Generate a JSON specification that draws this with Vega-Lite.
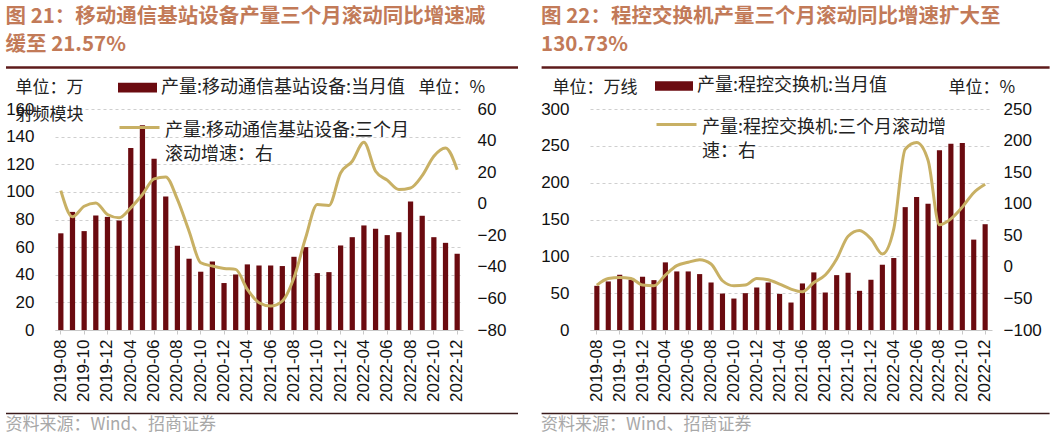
{
  "$schema": "https://vega.github.io/schema/vega-lite/v6.json",
  "padding": {"left": 5, "top": 7, "right": 0, "bottom": 0},
  "background": "white",
  "datasets": {
    "s1": [
      {"m": "2019-08", "bar": 70, "line": 8.3},
      {"m": "2019-09", "bar": 85.5, "line": -8.3},
      {"m": "2019-10", "bar": 71.6, "line": -1.6},
      {"m": "2019-11", "bar": 82.9, "line": 0.5},
      {"m": "2019-12", "bar": 81.9, "line": -6.8},
      {"m": "2020-03", "bar": 79.3, "line": -8.9},
      {"m": "2020-04", "bar": 131.8, "line": -2.6},
      {"m": "2020-05", "bar": 148.2, "line": 5.8},
      {"m": "2020-06", "bar": 123.9, "line": 15.7},
      {"m": "2020-07", "bar": 96.6, "line": 17},
      {"m": "2020-08", "bar": 61, "line": 2.7},
      {"m": "2020-09", "bar": 51.6, "line": -17.4},
      {"m": "2020-10", "bar": 42.2, "line": -37.4},
      {"m": "2020-11", "bar": 49.6, "line": -39.5},
      {"m": "2020-12", "bar": 34, "line": -41},
      {"m": "2021-03", "bar": 40.2, "line": -41.6},
      {"m": "2021-04", "bar": 47.5, "line": -54.3},
      {"m": "2021-05", "bar": 46.7, "line": -62.7},
      {"m": "2021-06", "bar": 46.7, "line": -64.8},
      {"m": "2021-07", "bar": 46.3, "line": -61.7},
      {"m": "2021-08", "bar": 53, "line": -46.9},
      {"m": "2021-09", "bar": 60, "line": -21.6},
      {"m": "2021-10", "bar": 41.2, "line": -0.5},
      {"m": "2021-11", "bar": 41.9, "line": -1.1},
      {"m": "2021-12", "bar": 61.2, "line": 19.5},
      {"m": "2022-03", "bar": 67.2, "line": 26.9},
      {"m": "2022-04", "bar": 75.7, "line": 38.9},
      {"m": "2022-05", "bar": 73.3, "line": 20.6},
      {"m": "2022-06", "bar": 68.7, "line": 14.9},
      {"m": "2022-07", "bar": 70.8, "line": 9},
      {"m": "2022-08", "bar": 93, "line": 10},
      {"m": "2022-09", "bar": 82.7, "line": 17.8},
      {"m": "2022-10", "bar": 67.2, "line": 30.1},
      {"m": "2022-11", "bar": 63.1, "line": 35.3},
      {"m": "2022-12", "bar": 55.2, "line": 21.57}
    ],
    "s2": [
      {"m": "2019-08", "bar": 60, "line": -28.9},
      {"m": "2019-09", "bar": 65.9, "line": -18.3},
      {"m": "2019-10", "bar": 75, "line": -16.7},
      {"m": "2019-11", "bar": 68.2, "line": -18.3},
      {"m": "2019-12", "bar": 72.3, "line": -28.9},
      {"m": "2020-03", "bar": 67.7, "line": -30},
      {"m": "2020-04", "bar": 91.8, "line": -13},
      {"m": "2020-05", "bar": 79.5, "line": 1.9},
      {"m": "2020-06", "bar": 79.5, "line": 7.2},
      {"m": "2020-07", "bar": 75.9, "line": 11.4},
      {"m": "2020-08", "bar": 64.5, "line": 4.5},
      {"m": "2020-09", "bar": 49.5, "line": -22},
      {"m": "2020-10", "bar": 42.7, "line": -30},
      {"m": "2020-11", "bar": 50, "line": -28.9},
      {"m": "2020-12", "bar": 57.7, "line": -18.3},
      {"m": "2021-03", "bar": 64.5, "line": -20.4},
      {"m": "2021-04", "bar": 49, "line": -27.3},
      {"m": "2021-05", "bar": 37.3, "line": -35.3},
      {"m": "2021-06", "bar": 63.2, "line": -39.5},
      {"m": "2021-07", "bar": 78.2, "line": -24.7},
      {"m": "2021-08", "bar": 50.9, "line": -13},
      {"m": "2021-09", "bar": 74.5, "line": 12.5},
      {"m": "2021-10", "bar": 77.7, "line": 48.5},
      {"m": "2021-11", "bar": 53.2, "line": 57.5},
      {"m": "2021-12", "bar": 68.2, "line": 44.3},
      {"m": "2022-03", "bar": 88.6, "line": 20.4},
      {"m": "2022-04", "bar": 97.7, "line": 60.2},
      {"m": "2022-05", "bar": 166.8, "line": 186.4},
      {"m": "2022-06", "bar": 180.5, "line": 197},
      {"m": "2022-07", "bar": 171.4, "line": 168.9},
      {"m": "2022-08", "bar": 244, "line": 66.5},
      {"m": "2022-09", "bar": 252.7, "line": 76},
      {"m": "2022-10", "bar": 254, "line": 94.6},
      {"m": "2022-11", "bar": 122.7, "line": 117.4},
      {"m": "2022-12", "bar": 143.6, "line": 130.73}
    ]
  },
  "vconcat": [
    {
      "hconcat": [
        {
          "width": 512, "height": 1,
          "data": {"values": [{}]},
          "title": {"text": ["图 21：移动通信基站设备产量三个月滚动同比增速减", "缓至 21.57%"], "anchor": "start", "frame": "group", "dx": -49.5, "fontSize": 20.5, "fontWeight": "bold", "font": "Noto Sans CJK SC", "color": "#C27A58", "lineHeight": 28, "offset": 8},
          "mark": {"type": "point", "opacity": 0},
          "encoding": {"x": {"datum": 0, "type": "quantitative", "scale": {"domain": [0, 1]},
            "axis": {"orient": "bottom", "title": null, "labels": false, "ticks": false, "grid": false, "domain": true, "domainColor": "#5E1B1B", "domainWidth": 2.5, "position": -49.5}}}
        },
        {
          "width": 508, "height": 1,
          "data": {"values": [{}]},
          "title": {"text": ["图 22：程控交换机产量三个月滚动同比增速扩大至", "130.73%"], "anchor": "start", "frame": "group", "dx": -49.5, "fontSize": 20.5, "fontWeight": "bold", "font": "Noto Sans CJK SC", "color": "#C27A58", "lineHeight": 28, "offset": 8},
          "mark": {"type": "point", "opacity": 0},
          "encoding": {"x": {"datum": 0, "type": "quantitative", "scale": {"domain": [0, 1]},
            "axis": {"orient": "bottom", "title": null, "labels": false, "ticks": false, "grid": false, "domain": true, "domainColor": "#5E1B1B", "domainWidth": 2.5, "position": -49.5}}}
        }
      ],
      "spacing": -26.4
    },
    {
      "vconcat": [
        {
          "hconcat": [
            {
              "width": 408, "height": 221,
              "data": {"name": "s1"},
              "layer": [
                {
                  "mark": {"type": "bar", "width": {"band": 0.45}},
                  "encoding": {
                    "x": {"field": "m", "type": "ordinal", "sort": null, "scale": {"paddingInner": 0, "paddingOuter": 0},
                      "axis": {"title": null, "values": ["2019-08","2019-10","2019-12","2020-04","2020-06","2020-08","2020-10","2020-12","2021-04","2021-06","2021-08","2021-10","2021-12","2022-04","2022-06","2022-08","2022-10","2022-12"],
                        "labelAngle": 270, "labelFontSize": 17, "labelFont": "Liberation Sans", "labelColor": "#111", "labelPadding": 5, "domainColor": "#C8C8C8", "tickColor": "#C8C8C8", "tickSize": 4, "grid": false}},
                    "y": {"field": "bar", "type": "quantitative", "scale": {"domain": [0, 160], "nice": false},
                      "axis": {"values": [0,20,40,60,80,100,120,140,160], "title": ["单位：万", "射频模块"], "titleAngle": 0, "titleAlign": "left", "titleBaseline": "top", "titleX": -40, "titleY": -30, "titleFontSize": 17, "titleFontWeight": "normal", "titleFont": "Noto Sans CJK SC", "titleColor": "#222", "titleLineHeight": 27,
                        "labelFontSize": 17, "labelFont": "Liberation Sans", "labelColor": "#111", "labelPadding": 21, "ticks": false, "domain": false,
                        "grid": true, "gridColor": "#CFCFCF", "gridDash": [3, 3], "gridWidth": 1}},
                    "fill": {"datum": "产量:移动通信基站设备:当月值", "type": "nominal", "scale": {"range": ["#6B0B10"]},
                      "legend": {"orient": "none", "legendX": 63, "legendY": -41, "title": null, "symbolType": "M-1,-0.25H1V0.25H-1Z", "symbolSize": 1521, "symbolStrokeWidth": 0, "labelFontSize": 18, "labelFont": "Noto Sans CJK SC", "labelColor": "#222", "labelLimit": 500, "labelOffset": 4}}
                  }
                },
                {
                  "mark": {"type": "line", "interpolate": "monotone", "strokeWidth": 3},
                  "encoding": {
                    "x": {"field": "m", "type": "ordinal", "sort": null},
                    "y": {"field": "line", "type": "quantitative", "scale": {"domain": [-80, 60], "nice": false},
                      "axis": {"orient": "right", "values": [-80,-60,-40,-20,0,20,40,60], "title": "单位：%", "titleAngle": 0, "titleAlign": "left", "titleBaseline": "top", "titleX": -45, "titleY": -30, "titleFontSize": 17, "titleFontWeight": "normal", "titleFont": "Noto Sans CJK SC", "titleColor": "#222",
                        "labelFontSize": 17, "labelFont": "Liberation Sans", "labelColor": "#111", "labelPadding": 14, "ticks": false, "domain": false, "grid": false}},
                    "stroke": {"datum": "产量:移动通信基站设备:三个月滚动增速：右", "type": "nominal", "scale": {"range": ["#C8B064"]},
                      "legend": {"orient": "none", "legendX": 63, "legendY": 5, "title": null, "symbolType": "M-1,-0.4H1", "symbolSize": 1600, "symbolStrokeWidth": 3, "labelFontSize": 18, "labelFont": "Noto Sans CJK SC", "labelColor": "#222", "labelLimit": 500, "labelOffset": 4, "labelBaseline": "alphabetic",
                        "labelExpr": "['产量:移动通信基站设备:三个月', '滚动增速：右']"}}
                  }
                }
              ],
              "resolve": {"scale": {"y": "independent"}}
            },
            {
              "width": 402, "height": 221,
              "data": {"name": "s2"},
              "layer": [
                {
                  "mark": {"type": "bar", "width": {"band": 0.45}},
                  "encoding": {
                    "x": {"field": "m", "type": "ordinal", "sort": null, "scale": {"paddingInner": 0, "paddingOuter": 0.1},
                      "axis": {"title": null, "values": ["2019-08","2019-10","2019-12","2020-04","2020-06","2020-08","2020-10","2020-12","2021-04","2021-06","2021-08","2021-10","2021-12","2022-04","2022-06","2022-08","2022-10","2022-12"],
                        "labelAngle": 270, "labelFontSize": 17, "labelFont": "Liberation Sans", "labelColor": "#111", "labelPadding": 5, "domainColor": "#C8C8C8", "tickColor": "#C8C8C8", "tickSize": 4, "grid": false}},
                    "y": {"field": "bar", "type": "quantitative", "scale": {"domain": [0, 300], "nice": false},
                      "axis": {"values": [0,50,100,150,200,250,300], "title": "单位：万线", "titleAngle": 0, "titleAlign": "left", "titleBaseline": "top", "titleX": -38, "titleY": -30, "titleFontSize": 17, "titleFontWeight": "normal", "titleFont": "Noto Sans CJK SC", "titleColor": "#222",
                        "labelFontSize": 17, "labelFont": "Liberation Sans", "labelColor": "#111", "labelPadding": 21, "ticks": false, "domain": false,
                        "grid": true, "gridColor": "#CFCFCF", "gridDash": [3, 3], "gridWidth": 1}},
                    "fill": {"datum": "产量:程控交换机:当月值", "type": "nominal", "scale": {"range": ["#6B0B10"]},
                      "legend": {"orient": "none", "legendX": 65, "legendY": -42, "title": null, "symbolType": "M-1,-0.25H1V0.25H-1Z", "symbolSize": 1444, "symbolStrokeWidth": 0, "labelFontSize": 18, "labelFont": "Noto Sans CJK SC", "labelColor": "#222", "labelLimit": 500, "labelOffset": 4}}
                  }
                },
                {
                  "mark": {"type": "line", "interpolate": "monotone", "strokeWidth": 3},
                  "encoding": {
                    "x": {"field": "m", "type": "ordinal", "sort": null},
                    "y": {"field": "line", "type": "quantitative", "scale": {"domain": [-100, 250], "nice": false},
                      "axis": {"orient": "right", "values": [-100,-50,0,50,100,150,200,250], "title": "单位：%", "titleAngle": 0, "titleAlign": "left", "titleBaseline": "top", "titleX": -44, "titleY": -30, "titleFontSize": 17, "titleFontWeight": "normal", "titleFont": "Noto Sans CJK SC", "titleColor": "#222",
                        "labelFontSize": 17, "labelFont": "Liberation Sans", "labelColor": "#111", "labelPadding": 11, "ticks": false, "domain": false, "grid": false}},
                    "stroke": {"datum": "产量:程控交换机:三个月滚动增速：右", "type": "nominal", "scale": {"range": ["#C8B064"]},
                      "legend": {"orient": "none", "legendX": 65, "legendY": 2, "title": null, "symbolType": "M-1,-0.4H1", "symbolSize": 1600, "symbolStrokeWidth": 3, "labelFontSize": 18, "labelFont": "Noto Sans CJK SC", "labelColor": "#222", "labelLimit": 500, "labelOffset": 4, "labelBaseline": "alphabetic",
                        "labelExpr": "['产量:程控交换机:三个月滚动增', '速：右']"}}
                  }
                }
              ],
              "resolve": {"scale": {"y": "independent"}}
            }
          ],
          "spacing": 34,
          "resolve": {"scale": {"fill": "independent", "stroke": "independent"}, "legend": {"fill": "independent", "stroke": "independent"}}
        },
        {
          "hconcat": [
            {
              "width": 512, "height": 1,
              "data": {"values": [{}]},
              "title": {"text": "资料来源：Wind、招商证券", "orient": "bottom", "anchor": "start", "frame": "group", "dx": -49.5, "fontSize": 17, "fontWeight": "normal", "font": "Noto Sans CJK SC", "color": "#A8A8A8", "offset": 2},
              "mark": {"type": "point", "opacity": 0},
              "encoding": {"x": {"datum": 0, "type": "quantitative", "scale": {"domain": [0, 1]},
                "axis": {"orient": "bottom", "title": null, "labels": false, "ticks": false, "grid": false, "domain": true, "domainColor": "#3A1A1A", "domainWidth": 1.5, "position": -49.5}}}
            },
            {
              "width": 508, "height": 1,
              "data": {"values": [{}]},
              "title": {"text": "资料来源：Wind、招商证券", "orient": "bottom", "anchor": "start", "frame": "group", "dx": -49.5, "fontSize": 17, "fontWeight": "normal", "font": "Noto Sans CJK SC", "color": "#A8A8A8", "offset": 2},
              "mark": {"type": "point", "opacity": 0},
              "encoding": {"x": {"datum": 0, "type": "quantitative", "scale": {"domain": [0, 1]},
                "axis": {"orient": "bottom", "title": null, "labels": false, "ticks": false, "grid": false, "domain": true, "domainColor": "#3A1A1A", "domainWidth": 1.5, "position": -49.5}}}
            }
          ],
          "spacing": -26.4
        }
      ],
      "spacing": 7
    }
  ],
  "spacing": -3,
  "resolve": {"scale": {"fill": "independent", "stroke": "independent"}, "legend": {"fill": "independent", "stroke": "independent"}},
  "config": {
    "view": {"stroke": null},
    "font": "Noto Sans CJK SC",
    "style": {"guide-label": {"lineHeight": 24}}
  }
}
